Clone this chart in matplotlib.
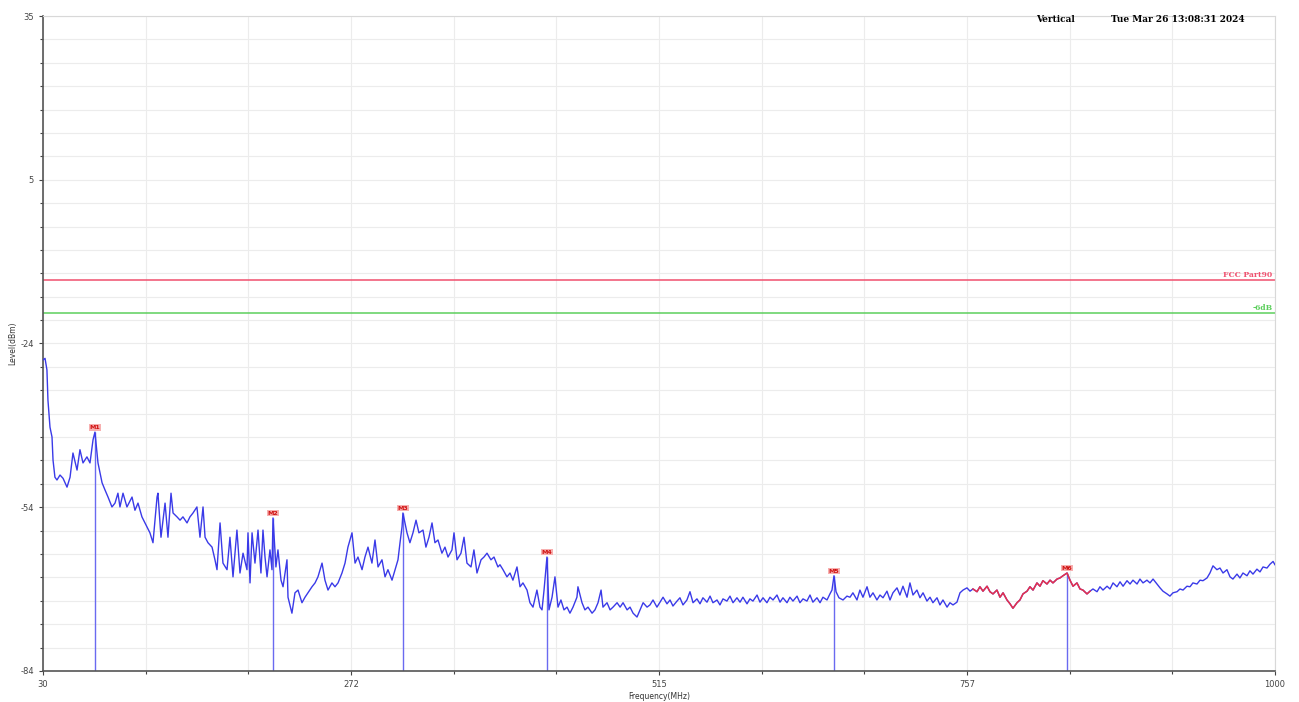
import numpy as np
import matplotlib
matplotlib.use('Agg')
import matplotlib.pyplot as plt
from matplotlib.ticker import AutoMinorLocator, FixedLocator

# trace (MHz, dBm)
freq_mhz = [
  30.0, 31.6, 33.1, 33.9, 35.5, 37.1, 37.9, 39.4, 41.0, 43.4, 45.8, 48.9, 51.3, 53.6, 56.8,
  59.1, 61.5, 64.6, 67.0, 69.4, 70.9, 73.3, 76.5, 78.8, 81.2, 84.3, 86.7, 89.0, 90.6, 93.0,
  96.1, 100.1, 102.4, 104.8, 107.9, 110.3, 114.2, 116.6, 119.8, 120.5, 122.9, 126.1, 128.4,
  130.8, 132.4, 135.5, 137.9, 140.2, 143.4, 145.7, 148.1, 151.2,
  153.6, 156.0, 157.6, 159.9, 163.1, 165.4, 167.0, 169.4, 171.7, 174.9, 177.2, 179.6, 182.7,
  185.1, 187.5, 190.6, 191.4, 193.0, 194.6, 196.9, 199.3, 201.6, 203.2, 204.8, 206.4, 208.7,
  210.3, 211.1, 213.4, 215.0, 217.4, 219.0, 222.1, 222.9, 226.0, 228.4, 230.8, 233.9, 236.3,
  238.6, 241.8, 244.2, 246.5, 249.7, 252.0, 254.4, 257.5, 259.9, 262.3, 265.4, 267.8, 270.1,
  273.3, 275.7, 278.0, 281.2, 283.5, 285.9, 289.0, 291.4, 293.8, 296.9, 299.3, 301.6, 304.8,
  307.2, 309.5, 311.1, 312.7, 313.4, 316.6, 318.9, 321.3, 323.7, 326.0, 329.2, 331.5, 333.9,
  336.3, 338.6, 341.0, 344.1, 346.5, 348.9, 352.0, 353.6, 356.0, 359.1, 361.5, 363.8, 367.0,
  369.3, 371.7, 374.9, 377.2, 379.6, 382.7, 385.1, 388.2,
  389.8, 392.2, 395.3, 397.7, 400.0, 403.2, 405.6, 407.9, 411.1, 413.4, 415.8, 418.9, 421.3,
  422.9, 424.5, 426.8, 428.4, 430.8, 433.1, 435.5, 437.8, 440.2, 442.6, 444.9, 447.3, 450.4,
  451.2, 454.4, 456.7, 459.1, 462.3, 464.6, 467.0, 469.4, 470.9, 474.1, 476.5, 478.8, 482.0,
  484.4, 486.7, 489.9, 492.2, 494.6, 497.7, 500.1, 502.5, 505.6,
  507.9, 510.3, 513.4, 515.8, 518.2, 521.3, 523.7, 526.0, 529.2, 531.5, 533.9, 537.0, 539.4,
  541.8, 544.9, 547.3, 549.6, 552.8, 555.2, 557.5, 560.7, 563.0, 565.4, 568.5, 570.9, 573.3,
  576.4, 578.8, 581.1, 584.3, 586.6, 589.0, 592.2, 594.5, 596.9, 600.0, 602.4, 604.8, 607.9,
  610.3, 612.6, 615.8, 618.1, 620.5, 623.7, 626.0, 628.4, 631.5, 633.9, 636.2, 639.4, 641.8,
  644.1, 647.3, 649.6, 651.2, 652.8, 654.4, 656.7, 659.9, 663.0,
  665.4, 667.7, 670.9, 673.2, 675.6, 678.8, 681.1, 683.5, 686.6, 689.0, 691.4, 694.5, 696.9,
  699.2, 702.4, 704.7, 707.1, 710.3, 712.6, 715.0, 718.1, 720.5, 722.9, 726.0, 728.4, 730.7,
  733.9, 736.2, 738.6, 741.8, 744.1, 746.5, 749.6, 752.0, 754.4, 757.5, 759.9, 762.2, 765.4,
  767.7, 770.1, 773.3, 775.6, 778.0, 781.1, 783.5, 785.9, 789.0, 791.4, 793.7, 796.9, 799.2,
  801.6, 804.8, 807.1, 809.5, 812.6, 815.0, 817.3, 820.5, 822.9, 825.2, 828.4, 830.7, 833.1,
  836.3, 838.6, 841.0, 844.1, 846.5, 848.8, 852.0, 854.4, 856.7, 859.9, 862.2, 864.6, 867.8,
  870.1, 872.5, 875.6, 878.0, 880.4, 883.5, 885.9, 888.2, 891.4, 893.7, 896.1, 899.2, 901.6,
  904.0, 907.1, 909.5, 911.8, 915.0, 917.3, 919.7, 922.9, 925.2, 927.6, 930.7, 933.1, 935.4,
  938.6, 941.0, 943.3, 946.5, 948.8, 951.2, 954.3, 956.7, 959.1, 962.2, 964.6, 966.9, 970.1,
  972.4, 974.8, 978.0, 980.3, 982.7, 985.8, 988.2, 990.6, 993.7, 996.1, 998.5, 1000.0,
]
level_dbm = [
  -27.5, -27.2, -29.3, -34.8, -39.7, -41.5, -45.7, -48.8, -49.3, -48.4, -49.0, -50.6, -48.8, -44.4, -47.5,
  -43.8, -46.2, -45.1, -46.2, -42.0, -40.6, -46.2, -49.8, -51.1, -52.4, -54.2, -53.5, -51.7, -54.2, -51.7,
  -54.2, -52.4, -54.8, -53.5, -56.0, -57.1, -58.9, -60.7, -52.4, -51.7, -59.7, -53.5, -59.7,
  -51.7, -55.3, -56.0, -56.6, -56.0, -57.1, -56.0, -55.3, -54.2,
  -59.7, -54.2, -59.7, -60.7, -61.5, -63.8, -65.6, -57.1, -64.4, -65.6, -59.7, -66.9, -58.4,
  -66.2, -62.6, -65.6, -58.9, -68.0, -58.9, -64.4, -58.4, -66.2, -58.4, -63.3, -66.9, -62.0,
  -65.6, -56.2, -65.1, -62.0, -67.5, -68.7, -63.8, -70.6, -73.5, -69.8, -69.3, -71.6, -70.6,
  -69.8, -68.7, -68.0, -66.9, -64.4, -67.5, -69.3, -68.0, -68.7, -68.0, -66.2, -64.4, -61.5,
  -58.9, -64.4, -63.3, -65.6, -63.3, -61.5, -64.4, -60.2, -65.1, -63.8, -66.9, -65.6, -67.5,
  -65.6, -63.8, -60.7, -57.8, -55.3, -58.9, -60.7, -58.9, -56.6, -58.9, -58.4, -61.5, -59.7,
  -57.1, -60.7, -60.2, -62.6, -61.5, -63.3, -62.0, -58.9, -63.8, -62.6, -59.7, -64.4, -65.1,
  -62.0, -66.2, -63.8, -63.3, -62.6, -63.8, -63.3, -65.1,
  -64.7, -65.6, -66.9, -66.2, -67.5, -65.1, -68.7, -68.0, -69.3, -71.6, -72.4, -69.3, -72.4,
  -72.9, -69.3, -63.3, -72.9, -70.6, -66.9, -72.4, -71.1, -72.9, -72.4, -73.5, -72.4, -70.6,
  -68.7, -71.6, -72.9, -72.4, -73.5, -72.9, -71.6, -69.3, -72.4, -71.6, -72.9, -72.4, -71.6,
  -72.4, -71.6, -72.9, -72.4, -73.5, -74.2, -72.9, -71.6, -72.4,
  -72.0, -71.1, -72.4, -71.5, -70.6, -71.8, -71.1, -72.2, -71.3, -70.7, -72.0, -71.1, -69.6,
  -71.6, -70.9, -71.8, -70.7, -71.5, -70.4, -71.6, -71.1, -72.0, -70.9, -71.3, -70.4, -71.6,
  -70.7, -71.5, -70.6, -71.8, -70.9, -71.3, -70.2, -71.5, -70.7, -71.6, -70.6, -71.1, -70.2,
  -71.5, -70.7, -71.6, -70.6, -71.3, -70.4, -71.6, -70.9, -71.3, -70.2, -71.5, -70.7, -71.6,
  -70.6, -71.1, -70.0, -69.3, -66.7, -69.6, -70.7, -71.1, -70.4,
  -70.6, -69.8, -71.1, -69.3, -70.6, -68.7, -70.6, -69.8, -71.1, -70.2, -70.7, -69.5, -71.1,
  -69.8, -68.9, -70.2, -68.6, -70.6, -68.0, -70.2, -69.3, -70.7, -69.8, -71.3, -70.6, -71.6,
  -70.7, -72.0, -71.1, -72.4, -71.6, -72.0, -71.5, -69.8, -69.3, -68.9, -69.5, -69.1, -69.6,
  -68.7, -69.5, -68.6, -69.6, -70.0, -69.3, -70.6, -69.8, -71.1, -71.8, -72.6, -71.6, -71.1,
  -70.0, -69.5, -68.7, -69.3, -68.0, -68.6, -67.6, -68.2, -67.5, -68.0, -67.3, -67.1, -66.7,
  -66.2, -67.5, -68.6, -68.0, -69.1, -69.3, -70.0, -69.5, -69.1, -69.6, -68.7, -69.3, -68.6,
  -69.1, -68.0, -68.7, -67.8, -68.6, -67.6, -68.2, -67.5, -68.2, -67.3, -68.0, -67.5, -68.0,
  -67.3, -68.2, -68.9, -69.5, -70.0, -70.4, -69.8, -69.6, -69.1, -69.3, -68.6, -68.7, -68.0,
  -68.2, -67.5, -67.6, -67.1, -66.2, -64.9, -65.6, -65.3, -66.2, -65.6, -66.9, -67.3, -66.4,
  -67.1, -66.2, -66.7, -65.8, -66.4, -65.5, -66.0, -65.1, -65.3, -64.6, -64.1, -64.7,
]

# peak markers
marker_names = ['M1', 'M2', 'M3', 'M4', 'M5', 'M6']
marker_freq = [70.9, 211.1, 313.4, 426.8, 652.8, 836.3]
marker_level = [-40.6, -56.2, -55.3, -63.3, -66.7, -66.2]

# limit lines
limit_names = ['FCC Part90', '-6dB']
limit_levels = [-13.0, -19.0]
limit_colors = ['#f0506e', '#5ccf5c']

f_min, f_max = 30, 1000
l_min, l_max = -84, 35

fig = plt.figure(figsize=(12.99, 7.02), dpi=100)
ax = fig.add_axes([0.0331, 0.0442, 0.9484, 0.933])

f = np.array(freq_mhz)
l = np.array(level_dbm)
ax.plot(f, l, color='#3a3ae8', lw=1.0, zorder=3)
# highlighted band in red
band = (f >= 762) & (f <= 855)
ax.plot(f[band], l[band], color='#e8304a', lw=1.1, zorder=4)

for name, mf, ml in zip(marker_names, marker_freq, marker_level):
  ax.vlines(mf, l_min, ml, color='#6a6af0', lw=1.0, zorder=2)
  ax.text(mf, ml + 0.4, name, color='#d01010', fontsize=4.5, ha='center', va='bottom',
          fontweight='bold', zorder=5,
          bbox=dict(boxstyle='square,pad=0.1', fc='#f7b0b0', ec='none'))

for name, lv, c in zip(limit_names, limit_levels, limit_colors):
  ax.axhline(lv, color=c, lw=1.1, zorder=2)
  ax.text(f_max - 2, lv + 0.3, name, color=c, fontsize=5.5, ha='right', va='bottom',
          family='serif', fontweight='bold')

ax.set_xlim(f_min, f_max)
ax.set_ylim(l_min, l_max)
xt = np.linspace(f_min, f_max, 5)
yt = np.linspace(l_min, l_max, 5)
ax.xaxis.set_major_locator(FixedLocator(xt))
ax.yaxis.set_major_locator(FixedLocator(yt))
ax.set_xticklabels(['%d' % v for v in xt])
ax.set_yticklabels(['%d' % v for v in yt])
ax.xaxis.set_minor_locator(AutoMinorLocator(3))
ax.yaxis.set_minor_locator(AutoMinorLocator(7))
ax.grid(which='both', color='#ececec', lw=0.8)
ax.set_axisbelow(True)
ax.tick_params(which='both', labelsize=6, colors='#444444', length=3, width=0.8)
ax.tick_params(which='minor', length=2)

for s in ['left', 'bottom']:
  ax.spines[s].set_color('#555555')
  ax.spines[s].set_linewidth(1.2)
for s in ['top', 'right']:
  ax.spines[s].set_color('#d8d8d8')
  ax.spines[s].set_linewidth(0.8)

ax.set_xlabel('Frequency(MHz)', fontsize=5.5, color='#333333', labelpad=2)
ax.set_ylabel('Level(dBm)', fontsize=5.5, color='#333333', labelpad=2)

fig.text(1055 / 1299, 1 - 20 / 702, 'Vertical', fontsize=6.5, family='serif',
         fontweight='bold', ha='center', va='center')
fig.text(1178 / 1299, 1 - 20 / 702, 'Tue Mar 26 13:08:31 2024', fontsize=6.5,
         family='serif', fontweight='bold', ha='center', va='center')

plt.savefig('out.png', dpi=100)
